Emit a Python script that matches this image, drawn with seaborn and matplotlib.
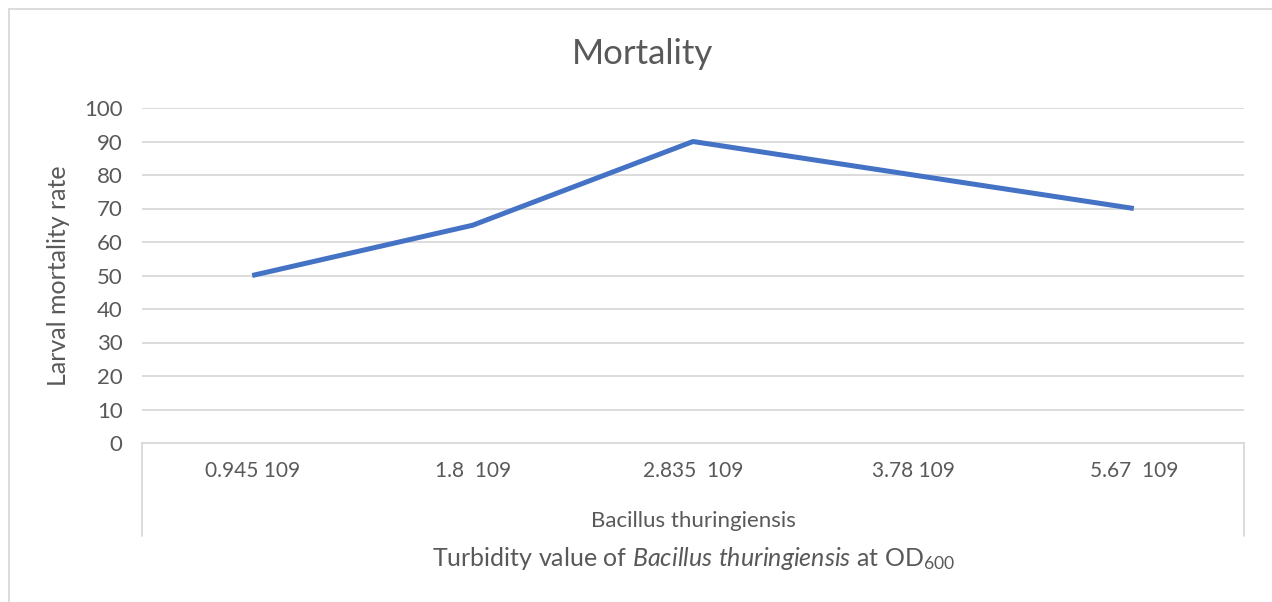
import matplotlib
matplotlib.use("Agg")
import matplotlib.pyplot as plt
import seaborn as sns
import pandas as pd
from matplotlib.lines import Line2D

categories = ["0.945 109", "1.8  109", "2.835  109", "3.78 109", "5.67  109"]
mortality = [50, 65, 90, 80, 70]
y_ticks = [0, 10, 20, 30, 40, 50, 60, 70, 80, 90, 100]
group_label = "Bacillus thuringiensis"
title = "Mortality"
y_label = "Larval mortality rate"

sns.set_theme(style="white")
plt.rcParams['font.family'] = ['Lato', 'DejaVu Sans']
plt.rcParams['mathtext.fontset'] = 'custom'
plt.rcParams['mathtext.rm'] = 'Lato'
plt.rcParams['mathtext.it'] = 'Lato:italic'
plt.rcParams['mathtext.bf'] = 'Lato:bold'

TXT = "#595959"
GRID = "#D9D9D9"
W, H = 1272, 602

fig = plt.figure(figsize=(W / 100, H / 100), dpi=100)
ax = fig.add_axes([142 / W, 1 - 443 / H, (1244 - 142) / W, (443 - 108) / H])

df = pd.DataFrame({"cat": categories, "val": mortality})
sns.lineplot(data=df, x="cat", y="val", ax=ax, color="#4472C4", linewidth=3.6,
             sort=False, solid_capstyle="butt", solid_joinstyle="round", zorder=3)

ax.set_xlim(-0.5, len(categories) - 0.5)
ax.set_ylim(0, 100)
ax.set_yticks(y_ticks)
ax.set_yticklabels([str(t) for t in y_ticks], color=TXT, fontsize=16)
ax.set_xticks(range(len(categories)))
ax.set_xticklabels(categories, color=TXT, fontsize=15)
ax.tick_params(axis="x", length=0, pad=13)
ax.tick_params(axis="y", length=0, pad=14)
ax.grid(axis="y", color=GRID, linewidth=1.3)
ax.grid(axis="x", visible=False)
for s in ["top", "right", "left"]:
    ax.spines[s].set_visible(False)
ax.spines["bottom"].set_color(GRID)
ax.spines["bottom"].set_linewidth(1.3)
ax.set_xlabel("")
ax.set_ylabel(y_label, color=TXT, fontsize=18, labelpad=10)

# category group boundary lines
tr = ax.get_xaxis_transform()
depth = -(536 - 443) / (443 - 108)
for xb in [-0.5, len(categories) - 0.5]:
    ax.plot([xb, xb], [0, depth], transform=tr, color=GRID, linewidth=1.3, clip_on=False)

ax.text((len(categories) - 1) / 2, -(521 - 443) / (443 - 108), group_label,
        transform=tr, ha="center", va="center", color=TXT, fontsize=16)

fig.text(694 / W, 1 - 558 / H,
         r"Turbidity value of $\mathit{Bacillus\ thuringiensis}$ at OD$_{600}$",
         ha="center", va="center", color=TXT, fontsize=18)

fig.text(642 / W, 1 - 54 / H, title, ha="center", va="center", color=TXT, fontsize=25)

# outer chart border (top & left visible)
fig.add_artist(Line2D([9 / W, 1.0], [1 - 9 / H, 1 - 9 / H], transform=fig.transFigure,
                      color=GRID, linewidth=1.3))
fig.add_artist(Line2D([9 / W, 9 / W], [1 - 9 / H, 0], transform=fig.transFigure,
                      color=GRID, linewidth=1.3))

fig.savefig("out.png", dpi=100, facecolor="white")
